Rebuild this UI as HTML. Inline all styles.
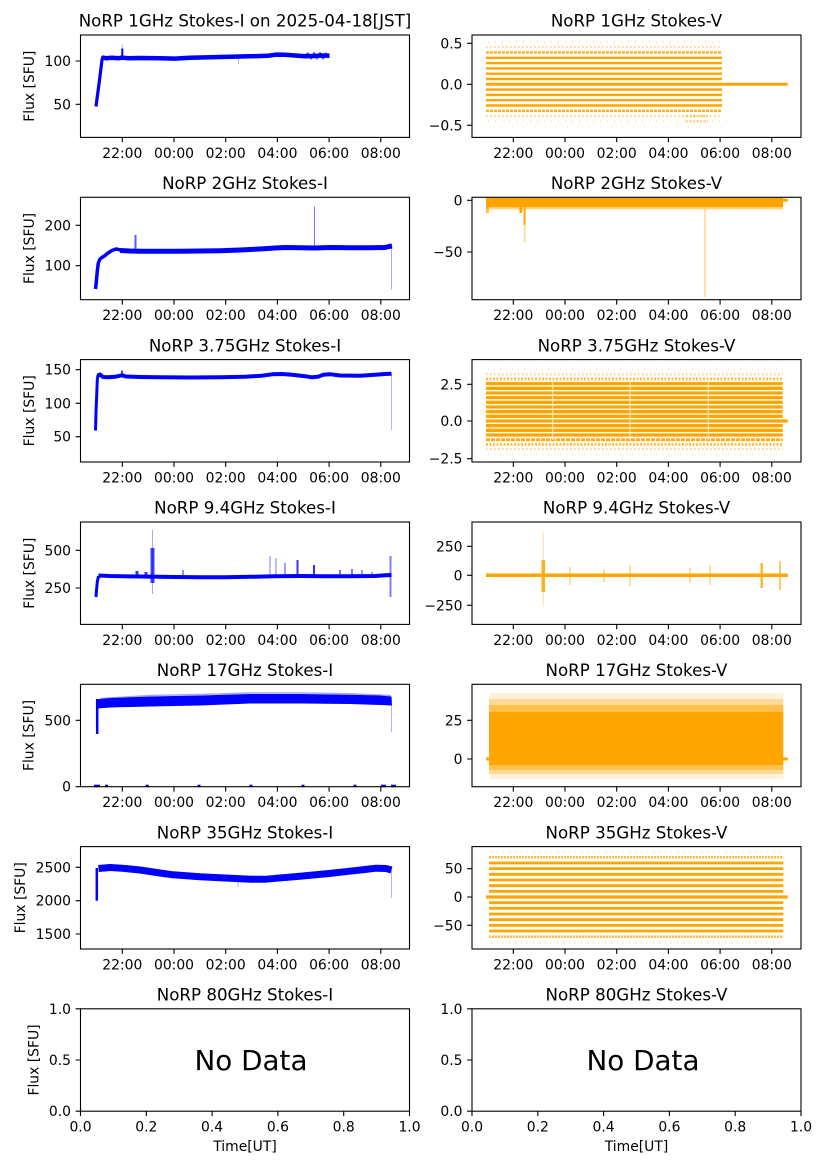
<!DOCTYPE html>
<html><head><meta charset="utf-8"><style>
html,body{margin:0;padding:0;background:#fff;}
svg{display:block;}
text{font-family:"DejaVu Sans","Liberation Sans",sans-serif;fill:#000;}
.tk{font-size:13.9px;}
.tt{font-size:16.67px;text-anchor:middle;}
.yl{font-size:13.9px;text-anchor:middle;}
.xl{text-anchor:middle;}
.yr{text-anchor:end;}
.sp{fill:none;stroke:#000;stroke-width:1.1;}
.tm{fill:none;stroke:#000;stroke-width:1.1;}
.b{fill:none;stroke:#0000ff;stroke-linejoin:round;stroke-linecap:butt;}
.o{fill:none;stroke:#ffa500;}
</style></head><body>
<svg width="827" height="1169" viewBox="0 0 827 1169" xmlns="http://www.w3.org/2000/svg">
<rect x="0" y="0" width="827" height="1169" fill="#fff"/>

<!-- ================= ROW 0 ================= -->
<g>
<polyline class="b" stroke-width="3.2" points="96,106.5 97.5,95 99,84 100.5,72 102,60 103,56.5"/>
<polyline class="b" stroke-width="4.5" points="102,57.5 106,58.2 112,57.8 118,58.3 122,57.6 128,58.2 140,58 160,58.3 175,58.6 190,57.8 210,57.3 230,56.8 250,56.3 268,55.8 276,54.6 285,54.8 295,55.5 305,56.2 315,56 322,55.5 329.5,55.8"/>
<polyline class="b" stroke-width="2" opacity="0.7" points="305,55 308,53.5 311,58.5 314,53 317,58.5 320,53 323,58.5 326,53.5 329,57.5"/>
<path class="b" stroke-width="2" d="M122.3 58V48.5"/>
<path class="b" stroke-width="1" opacity="0.3" d="M122.3 49V44.5M238.6 58V64"/>
</g>
<g>
<path class="o" stroke-width="2.4" d="M486 57.8H722M486 63.1H722M486 68.4H722M486 73.7H722M486 79H722M486 89.6H722M486 94.9H722M486 100.2H722M486 105.5H722"/>
<path class="o" stroke-width="3" d="M486 84.3H787.7"/>
<path class="o" stroke-width="2.4" stroke-dasharray="3 1" opacity="0.85" d="M486 52.5H722M486 110.8H722"/>
<path class="o" stroke-width="2.2" stroke-dasharray="1.5 2.5" opacity="0.5" d="M486 47.2H722M486 116.1H722"/>
<path class="o" stroke-width="2" stroke-dasharray="1 6" opacity="0.3" d="M488 41.9H722M488 121.4H722"/>
<path class="o" stroke-width="2" stroke-dasharray="1 10" opacity="0.2" d="M490 126.7H722"/>
<path class="o" stroke-width="2.2" stroke-dasharray="2 1.5" opacity="0.55" d="M686 116.1H708M686 121.4H708"/>
</g>

<!-- ================= ROW 1 ================= -->
<g>
<polyline class="b" stroke-width="3.5" points="95.5,289 96.3,282 97.2,272 98.3,263 100,259 102,257.5 105,255.5 108,253 112,250.5 116,249 120,249.8 124,250.8"/>
<polyline class="b" stroke-width="5" points="120,250.5 130,251 140,251.2 160,251.2 180,251.3 200,251 220,250.7 240,250 260,249 275,248 285,247.5 300,247.7 315,248 330,247.5 350,247.8 370,247.8 385,247.5 389,246.5 392,246"/>
<path class="b" stroke-width="2" opacity="0.65" d="M135.5 250V235"/>
<path class="b" stroke-width="1" opacity="0.55" d="M314.5 247V206.5"/>
<path class="b" stroke-width="1" opacity="0.35" d="M391.5 246V289.5"/>
</g>
<g>
<rect x="486" y="197.8" width="297" height="9.5" fill="#ffa500"/>
<rect x="486" y="207.3" width="297" height="2.2" fill="#ffa500" opacity="0.45"/>
<path class="o" stroke-width="3" d="M486 200.3H787.7"/>
<rect x="486" y="207" width="3" height="6" fill="#ffa500" opacity="0.7"/>
<rect x="519.5" y="207" width="2.8" height="6" fill="#ffa500"/>
<rect x="523.5" y="207" width="2.2" height="18" fill="#ffa500" opacity="0.9"/>
<rect x="523.8" y="225" width="1.6" height="17" fill="#ffa500" opacity="0.45"/>
<path class="o" stroke-width="1.2" opacity="0.55" d="M705 209V297"/>
</g>

<!-- ================= ROW 2 ================= -->
<g>
<polyline class="b" stroke-width="3" points="95.5,430.5 96,412 96.7,395 97.3,380 98,375"/>
<polyline class="b" stroke-width="4" points="97.5,375.5 100,374.5 103,377 108,377.3 115,376.8 122,375.3 126,376.5 140,377 160,377.3 190,377.5 220,377.2 245,376.8 262,375.7 272,374.3 282,374 292,374.8 305,376.2 312,377.3 318,376.8 323,374.8 330,374.2 340,375.5 360,375.7 375,374.8 385,374 391.5,373.8"/>
<path class="b" stroke-width="1.5" d="M122 376V370.5"/>
<path class="b" stroke-width="1" opacity="0.3" d="M391.5 374V430"/>
</g>
<g>
<path class="o" stroke-width="3.3" d="M486 383.6H782.7M486 388.3H782.7M486 393H782.7M486 397.6H782.7M486 402.3H782.7M486 407H782.7M486 411.7H782.7M486 416.3H782.7M486 425.7H782.7M486 430.3H782.7M486 435H782.7"/>
<path class="o" stroke-width="3.3" d="M486 421H787.7"/>
<path class="o" stroke-width="3" stroke-dasharray="4 1" opacity="0.9" d="M486 439.7H782.7"/>
<path class="o" stroke-width="3" stroke-dasharray="2 1.5" opacity="0.7" d="M486 379H782.7M486 444.4H782.7"/>
<path class="o" stroke-width="2.5" stroke-dasharray="1.5 2.5" opacity="0.45" d="M486 374.3H782.7M486 449H782.7"/>
<path class="o" stroke-width="2.2" stroke-dasharray="1 5" opacity="0.25" d="M488 369.6H782.7M488 453.7H782.7"/>
<path class="o" stroke-width="2" stroke-dasharray="1 10" opacity="0.15" d="M490 365H782.7M490 458.4H782.7"/>
<path stroke="#fff" stroke-width="1" opacity="0.8" d="M552.7 380V440M630 380V440M708.3 380V440"/>
</g>

<!-- ================= ROW 3 ================= -->
<g>
<polyline class="b" stroke-width="3" points="96,597 96.5,590 97.3,582 98.5,576"/>
<polyline class="b" stroke-width="4" points="98.5,575.5 110,576 130,576.4 150,576.6 175,577 200,577.2 225,577.2 250,576.8 275,576.3 300,576 325,576.2 350,576.2 375,576 385,575.3 391.5,575"/>
<rect x="150.5" y="548" width="4" height="35" fill="#0000ff" opacity="0.75"/>
<path class="b" stroke-width="1" opacity="0.35" d="M152.5 530V594"/>
<path class="b" stroke-width="3" opacity="0.8" d="M137 571V577M146 572V577"/>
<path class="b" stroke-width="1.5" opacity="0.6" d="M183 570V577"/>
<path class="b" stroke-width="1.5" opacity="0.35" d="M270 556V577M276 558V577"/>
<path class="b" stroke-width="1.5" opacity="0.5" d="M285 563V577"/>
<path class="b" stroke-width="2" opacity="0.8" d="M297.5 560V577M314 565V577"/>
<path class="b" stroke-width="1.5" opacity="0.7" d="M340 570V577M352 569V577"/>
<path class="b" stroke-width="1.5" opacity="0.55" d="M362 570V577M372 572V577"/>
<path class="b" stroke-width="2" opacity="0.5" d="M390.5 556V597"/>
</g>
<g>
<path class="o" stroke-width="3.5" d="M486 575.3H787.7"/>
<rect x="541.5" y="560" width="3.6" height="32" fill="#ffa500" opacity="0.85"/>
<path class="o" stroke-width="1.2" opacity="0.3" d="M543.3 531.7V606.7"/>
<path class="o" stroke-width="1.5" opacity="0.5" d="M570 567V585M604 569V582M630 565V586M690 568V583M710 565V585"/>
<path class="o" stroke-width="2.5" opacity="0.8" d="M761.7 563V588"/>
<path class="o" stroke-width="2" opacity="0.6" d="M780 561V590"/>
</g>

<!-- ================= ROW 4 ================= -->
<g>
<polygon fill="#0000ff" points="98,699.3 110,698 150,696.5 200,695.5 250,694 300,694 350,694.8 380,695.5 391.5,696.5 392,705.5 380,705 350,704 300,703.5 250,703.5 200,705.5 150,706.5 110,707.5 98,708.5"/>
<polyline class="b" stroke-width="1.5" opacity="0.35" points="100,698.5 150,695.5 200,694.5 250,693 300,693 350,693.8 391,695.5"/>
<path class="b" stroke-width="2.5" d="M97.2 734V699"/>
<path class="b" stroke-width="1" opacity="0.3" d="M391.5 705V732"/>
<g fill="#0000ff">
<rect x="94" y="784.7" width="6" height="2.5"/><rect x="105" y="784.7" width="3" height="2.5"/>
<rect x="145.7" y="784.7" width="3" height="2.5"/><rect x="197.5" y="784.7" width="3" height="2.5"/>
<rect x="249.5" y="784.7" width="3" height="2.5"/><rect x="301.5" y="784.7" width="3" height="2.5"/>
<rect x="353.5" y="784.7" width="3" height="2.5"/><rect x="381" y="784.7" width="5" height="2.5"/>
<rect x="391" y="784.7" width="5" height="2.5"/>
</g>
</g>
<g>
<rect x="489" y="711.7" width="294.3" height="53.3" fill="#ffa500"/>
<rect x="489" y="705" width="294.3" height="6.7" fill="#ffa500" opacity="0.7"/>
<rect x="489" y="699" width="294.3" height="6" fill="#ffa500" opacity="0.4"/>
<rect x="489" y="693" width="294.3" height="6" fill="#ffa500" opacity="0.15"/>
<rect x="489" y="765" width="294.3" height="5" fill="#ffa500" opacity="0.7"/>
<rect x="489" y="770" width="294.3" height="4" fill="#ffa500" opacity="0.4"/>
<rect x="489" y="774" width="294.3" height="5" fill="#ffa500" opacity="0.15"/>
<path class="o" stroke-width="3" d="M486 759H787.7"/>
</g>

<!-- ================= ROW 5 ================= -->
<g>
<polyline class="b" stroke-width="7" points="98.5,868.5 110,867.5 122,868.2 140,870 160,873 173,874.8 200,876.8 225,878 251,879.3 265,879.3 277,878.2 300,876.3 329,873.5 350,871.2 365,869.5 376,868.2 386,868.5 391.5,870"/>
<path class="b" stroke-width="2.5" d="M96.8 900.7V868"/>
<path class="b" stroke-width="1" opacity="0.3" d="M238 878V887M391.5 870V898"/>
</g>
<g>
<path class="o" stroke-width="2.8" d="M489 863H783.3M489 868.65H783.3M489 874.3H783.3M489 880H783.3M489 885.7H783.3M489 891.3H783.3M489 902.7H783.3M489 908.3H783.3M489 914H783.3M489 919.7H783.3M489 925.35H783.3M489 931H783.3"/>
<path class="o" stroke-width="3.2" d="M486 897H787.7"/>
<path class="o" stroke-width="2.6" stroke-dasharray="2 1" opacity="0.75" d="M489 857.3H783.3M489 936.7H783.3"/>
<path class="o" stroke-width="2.2" stroke-dasharray="1 5" opacity="0.3" d="M491 851.6H783.3M491 942.4H783.3"/>
</g>

<!-- ================= No Data ================= -->
<text x="251" y="1070" style="font-size:27.8px;text-anchor:middle">No Data</text>
<text x="643" y="1070" style="font-size:27.8px;text-anchor:middle">No Data</text>

<!-- ================= SPINES ================= -->
<rect class="sp" x="80.5" y="35" width="329" height="102.4"/>
<rect class="sp" x="472" y="35" width="329" height="102.4"/>
<rect class="sp" x="80.5" y="197.3" width="329" height="102.4"/>
<rect class="sp" x="472" y="197.3" width="329" height="102.4"/>
<rect class="sp" x="80.5" y="359.6" width="329" height="102.4"/>
<rect class="sp" x="472" y="359.6" width="329" height="102.4"/>
<rect class="sp" x="80.5" y="522" width="329" height="102.4"/>
<rect class="sp" x="472" y="522" width="329" height="102.4"/>
<rect class="sp" x="80.5" y="684.3" width="329" height="102.4"/>
<rect class="sp" x="472" y="684.3" width="329" height="102.4"/>
<rect class="sp" x="80.5" y="846.6" width="329" height="102.4"/>
<rect class="sp" x="472" y="846.6" width="329" height="102.4"/>
<rect class="sp" x="80.5" y="1008.8" width="329" height="102.4"/>
<rect class="sp" x="472" y="1008.8" width="329" height="102.4"/>

<!-- ================= TICK MARKS ================= -->
<path class="tm" d="
M122.3 137.4v4.9M174 137.4v4.9M225.7 137.4v4.9M277.4 137.4v4.9M329.1 137.4v4.9M380.8 137.4v4.9
M513.3 137.4v4.9M565 137.4v4.9M616.7 137.4v4.9M668.4 137.4v4.9M720.1 137.4v4.9M771.8 137.4v4.9
M122.3 299.7v4.9M174 299.7v4.9M225.7 299.7v4.9M277.4 299.7v4.9M329.1 299.7v4.9M380.8 299.7v4.9
M513.3 299.7v4.9M565 299.7v4.9M616.7 299.7v4.9M668.4 299.7v4.9M720.1 299.7v4.9M771.8 299.7v4.9
M122.3 462v4.9M174 462v4.9M225.7 462v4.9M277.4 462v4.9M329.1 462v4.9M380.8 462v4.9
M513.3 462v4.9M565 462v4.9M616.7 462v4.9M668.4 462v4.9M720.1 462v4.9M771.8 462v4.9
M122.3 624.4v4.9M174 624.4v4.9M225.7 624.4v4.9M277.4 624.4v4.9M329.1 624.4v4.9M380.8 624.4v4.9
M513.3 624.4v4.9M565 624.4v4.9M616.7 624.4v4.9M668.4 624.4v4.9M720.1 624.4v4.9M771.8 624.4v4.9
M122.3 786.7v4.9M174 786.7v4.9M225.7 786.7v4.9M277.4 786.7v4.9M329.1 786.7v4.9M380.8 786.7v4.9
M513.3 786.7v4.9M565 786.7v4.9M616.7 786.7v4.9M668.4 786.7v4.9M720.1 786.7v4.9M771.8 786.7v4.9
M122.3 949v4.9M174 949v4.9M225.7 949v4.9M277.4 949v4.9M329.1 949v4.9M380.8 949v4.9
M513.3 949v4.9M565 949v4.9M616.7 949v4.9M668.4 949v4.9M720.1 949v4.9M771.8 949v4.9
M80.5 1111.2v4.9M146.3 1111.2v4.9M212.1 1111.2v4.9M277.9 1111.2v4.9M343.7 1111.2v4.9M409.5 1111.2v4.9
M472 1111.2v4.9M537.8 1111.2v4.9M603.6 1111.2v4.9M669.4 1111.2v4.9M735.2 1111.2v4.9M801 1111.2v4.9
M80.5 61h-4.9M80.5 104.3h-4.9
M472 43.3h-4.9M472 84.3h-4.9M472 125.3h-4.9
M80.5 225.3h-4.9M80.5 265.7h-4.9
M472 200.3h-4.9M472 252h-4.9
M80.5 369.7h-4.9M80.5 403.3h-4.9M80.5 436.7h-4.9
M472 384.3h-4.9M472 421h-4.9M472 458.7h-4.9
M80.5 550.3h-4.9M80.5 588h-4.9
M472 546.3h-4.9M472 575.3h-4.9M472 605.3h-4.9
M80.5 720.3h-4.9M80.5 786.7h-4.9
M472 720.3h-4.9M472 759h-4.9
M80.5 867.3h-4.9M80.5 900.7h-4.9M80.5 934h-4.9
M472 868.7h-4.9M472 897h-4.9M472 925.3h-4.9
M80.5 1008.8h-4.9M80.5 1060h-4.9M80.5 1111.2h-4.9
M472 1008.8h-4.9M472 1060h-4.9M472 1111.2h-4.9"/>

<!-- ================= TITLES ================= -->
<text class="tt" x="245" y="26.5">NoRP 1GHz Stokes-I on 2025-04-18[JST]</text>
<text class="tt" x="636.5" y="26.5">NoRP 1GHz Stokes-V</text>
<text class="tt" x="245" y="189">NoRP 2GHz Stokes-I</text>
<text class="tt" x="636.5" y="189">NoRP 2GHz Stokes-V</text>
<text class="tt" x="245" y="351.3">NoRP 3.75GHz Stokes-I</text>
<text class="tt" x="636.5" y="351.3">NoRP 3.75GHz Stokes-V</text>
<text class="tt" x="245" y="513.7">NoRP 9.4GHz Stokes-I</text>
<text class="tt" x="636.5" y="513.7">NoRP 9.4GHz Stokes-V</text>
<text class="tt" x="245" y="676">NoRP 17GHz Stokes-I</text>
<text class="tt" x="636.5" y="676">NoRP 17GHz Stokes-V</text>
<text class="tt" x="245" y="838.3">NoRP 35GHz Stokes-I</text>
<text class="tt" x="636.5" y="838.3">NoRP 35GHz Stokes-V</text>
<text class="tt" x="245" y="1000.5">NoRP 80GHz Stokes-I</text>
<text class="tt" x="636.5" y="1000.5">NoRP 80GHz Stokes-V</text>

<!-- ================= Y LABELS ================= -->
<text class="yl" transform="translate(30,86.2) rotate(-90)" dominant-baseline="central">Flux [SFU]</text>
<text class="yl" transform="translate(30,248.5) rotate(-90)" dominant-baseline="central">Flux [SFU]</text>
<text class="yl" transform="translate(30,410.8) rotate(-90)" dominant-baseline="central">Flux [SFU]</text>
<text class="yl" transform="translate(30,573.2) rotate(-90)" dominant-baseline="central">Flux [SFU]</text>
<text class="yl" transform="translate(29.5,735.5) rotate(-90)" dominant-baseline="central">Flux [SFU]</text>
<text class="yl" transform="translate(20.8,897.8) rotate(-90)" dominant-baseline="central">Flux [SFU]</text>
<text class="yl" transform="translate(34.5,1060) rotate(-90)" dominant-baseline="central">Flux [SFU]</text>

<text class="tk xl" x="245" y="1151">Time[UT]</text>
<text class="tk xl" x="636.5" y="1151">Time[UT]</text>

<!-- ================= Y TICK LABELS ================= -->
<g>
<text class="tk yr" x="71" y="66">100</text>
<text class="tk yr" x="71" y="109.3">50</text>
<text class="tk yr" x="462.5" y="48.3">0.5</text>
<text class="tk yr" x="462.5" y="89.3">0.0</text>
<text class="tk yr" x="462.5" y="130.3">−0.5</text>

<text class="tk yr" x="71" y="230.3">200</text>
<text class="tk yr" x="71" y="270.7">100</text>
<text class="tk yr" x="462.5" y="205.3">0</text>
<text class="tk yr" x="462.5" y="257">−50</text>

<text class="tk yr" x="71" y="374.7">150</text>
<text class="tk yr" x="71" y="408.3">100</text>
<text class="tk yr" x="71" y="441.7">50</text>
<text class="tk yr" x="462.5" y="389.3">2.5</text>
<text class="tk yr" x="462.5" y="426">0.0</text>
<text class="tk yr" x="462.5" y="463.7">−2.5</text>

<text class="tk yr" x="71" y="555.3">500</text>
<text class="tk yr" x="71" y="593">250</text>
<text class="tk yr" x="462.5" y="551.3">250</text>
<text class="tk yr" x="462.5" y="580.3">0</text>
<text class="tk yr" x="462.5" y="610.3">−250</text>

<text class="tk yr" x="71" y="725.3">500</text>
<text class="tk yr" x="71" y="791.7">0</text>
<text class="tk yr" x="462.5" y="725.3">25</text>
<text class="tk yr" x="462.5" y="764">0</text>

<text class="tk yr" x="71" y="872.3">2500</text>
<text class="tk yr" x="71" y="905.7">2000</text>
<text class="tk yr" x="71" y="939">1500</text>
<text class="tk yr" x="462.5" y="873.7">50</text>
<text class="tk yr" x="462.5" y="902">0</text>
<text class="tk yr" x="462.5" y="930.3">−50</text>

<text class="tk yr" x="71" y="1013.8">1.0</text>
<text class="tk yr" x="71" y="1065">0.5</text>
<text class="tk yr" x="71" y="1116.2">0.0</text>
<text class="tk yr" x="462.5" y="1013.8">1.0</text>
<text class="tk yr" x="462.5" y="1065">0.5</text>
<text class="tk yr" x="462.5" y="1116.2">0.0</text>
</g>

<!-- ================= X TICK LABELS ================= -->
<g>
<text class="tk xl" x="122.3" y="157.9">22:00</text><text class="tk xl" x="174" y="157.9">00:00</text><text class="tk xl" x="225.7" y="157.9">02:00</text><text class="tk xl" x="277.4" y="157.9">04:00</text><text class="tk xl" x="329.1" y="157.9">06:00</text><text class="tk xl" x="380.8" y="157.9">08:00</text>
<text class="tk xl" x="513.3" y="157.9">22:00</text><text class="tk xl" x="565" y="157.9">00:00</text><text class="tk xl" x="616.7" y="157.9">02:00</text><text class="tk xl" x="668.4" y="157.9">04:00</text><text class="tk xl" x="720.1" y="157.9">06:00</text><text class="tk xl" x="771.8" y="157.9">08:00</text>

<text class="tk xl" x="122.3" y="320.2">22:00</text><text class="tk xl" x="174" y="320.2">00:00</text><text class="tk xl" x="225.7" y="320.2">02:00</text><text class="tk xl" x="277.4" y="320.2">04:00</text><text class="tk xl" x="329.1" y="320.2">06:00</text><text class="tk xl" x="380.8" y="320.2">08:00</text>
<text class="tk xl" x="513.3" y="320.2">22:00</text><text class="tk xl" x="565" y="320.2">00:00</text><text class="tk xl" x="616.7" y="320.2">02:00</text><text class="tk xl" x="668.4" y="320.2">04:00</text><text class="tk xl" x="720.1" y="320.2">06:00</text><text class="tk xl" x="771.8" y="320.2">08:00</text>

<text class="tk xl" x="122.3" y="482.5">22:00</text><text class="tk xl" x="174" y="482.5">00:00</text><text class="tk xl" x="225.7" y="482.5">02:00</text><text class="tk xl" x="277.4" y="482.5">04:00</text><text class="tk xl" x="329.1" y="482.5">06:00</text><text class="tk xl" x="380.8" y="482.5">08:00</text>
<text class="tk xl" x="513.3" y="482.5">22:00</text><text class="tk xl" x="565" y="482.5">00:00</text><text class="tk xl" x="616.7" y="482.5">02:00</text><text class="tk xl" x="668.4" y="482.5">04:00</text><text class="tk xl" x="720.1" y="482.5">06:00</text><text class="tk xl" x="771.8" y="482.5">08:00</text>

<text class="tk xl" x="122.3" y="644.9">22:00</text><text class="tk xl" x="174" y="644.9">00:00</text><text class="tk xl" x="225.7" y="644.9">02:00</text><text class="tk xl" x="277.4" y="644.9">04:00</text><text class="tk xl" x="329.1" y="644.9">06:00</text><text class="tk xl" x="380.8" y="644.9">08:00</text>
<text class="tk xl" x="513.3" y="644.9">22:00</text><text class="tk xl" x="565" y="644.9">00:00</text><text class="tk xl" x="616.7" y="644.9">02:00</text><text class="tk xl" x="668.4" y="644.9">04:00</text><text class="tk xl" x="720.1" y="644.9">06:00</text><text class="tk xl" x="771.8" y="644.9">08:00</text>

<text class="tk xl" x="122.3" y="807.2">22:00</text><text class="tk xl" x="174" y="807.2">00:00</text><text class="tk xl" x="225.7" y="807.2">02:00</text><text class="tk xl" x="277.4" y="807.2">04:00</text><text class="tk xl" x="329.1" y="807.2">06:00</text><text class="tk xl" x="380.8" y="807.2">08:00</text>
<text class="tk xl" x="513.3" y="807.2">22:00</text><text class="tk xl" x="565" y="807.2">00:00</text><text class="tk xl" x="616.7" y="807.2">02:00</text><text class="tk xl" x="668.4" y="807.2">04:00</text><text class="tk xl" x="720.1" y="807.2">06:00</text><text class="tk xl" x="771.8" y="807.2">08:00</text>

<text class="tk xl" x="122.3" y="969.5">22:00</text><text class="tk xl" x="174" y="969.5">00:00</text><text class="tk xl" x="225.7" y="969.5">02:00</text><text class="tk xl" x="277.4" y="969.5">04:00</text><text class="tk xl" x="329.1" y="969.5">06:00</text><text class="tk xl" x="380.8" y="969.5">08:00</text>
<text class="tk xl" x="513.3" y="969.5">22:00</text><text class="tk xl" x="565" y="969.5">00:00</text><text class="tk xl" x="616.7" y="969.5">02:00</text><text class="tk xl" x="668.4" y="969.5">04:00</text><text class="tk xl" x="720.1" y="969.5">06:00</text><text class="tk xl" x="771.8" y="969.5">08:00</text>

<text class="tk xl" x="80.5" y="1131.7">0.0</text><text class="tk xl" x="146.3" y="1131.7">0.2</text><text class="tk xl" x="212.1" y="1131.7">0.4</text><text class="tk xl" x="277.9" y="1131.7">0.6</text><text class="tk xl" x="343.7" y="1131.7">0.8</text><text class="tk xl" x="409.5" y="1131.7">1.0</text>
<text class="tk xl" x="472" y="1131.7">0.0</text><text class="tk xl" x="537.8" y="1131.7">0.2</text><text class="tk xl" x="603.6" y="1131.7">0.4</text><text class="tk xl" x="669.4" y="1131.7">0.6</text><text class="tk xl" x="735.2" y="1131.7">0.8</text><text class="tk xl" x="801" y="1131.7">1.0</text>
</g>
</svg>
</body></html>
